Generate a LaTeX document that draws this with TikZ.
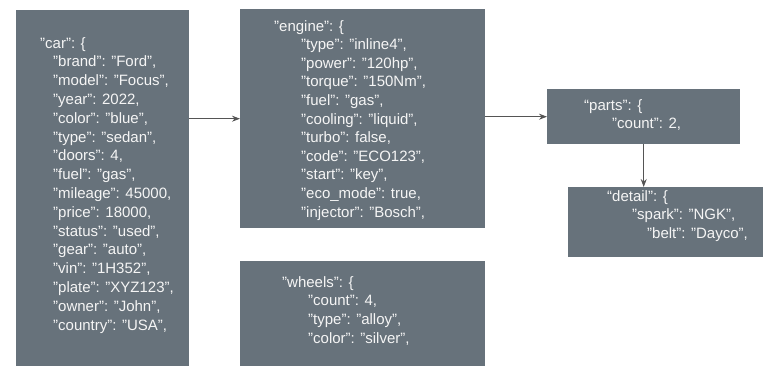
\documentclass[tikz,border=0pt]{standalone}
\usepackage{fontspec}
\setmainfont{Liberation Sans}
\usepackage{tikz}
\usetikzlibrary{arrows.meta}
\definecolor{boxgray}{RGB}{103,114,123}
\definecolor{linegray}{RGB}{85,85,85}
\tikzstyle{jsonbox} = [rectangle, anchor=north west, inner sep=0pt, fill=boxgray, draw=none]
\tikzstyle{jsontext} = [anchor=north west, inner sep=0pt, align=left, text=white!96!black, font=\fontsize{15}{18.8}\selectfont]
\tikzstyle{arrow} = [line width=0.9pt, draw=linegray, -{Stealth[length=8pt, width=6pt]}]
\newcommand{\ind}[1]{\hspace*{#1pt}}

\begin{document}
\begin{tikzpicture}[x=1pt, y=-1pt]
\useasboundingbox (0,0) rectangle (767,366);

\node (car) [jsonbox, minimum width=173pt, minimum height=356pt] at (16,10) {};
\node (engine) [jsonbox, minimum width=245pt, minimum height=219pt] at (240,9) {};
\node (wheels) [jsonbox, minimum width=245pt, minimum height=105pt] at (240,261) {};
\node (parts) [jsonbox, minimum width=193pt, minimum height=55pt] at (547,89) {};
\node (detail) [jsonbox, minimum width=195pt, minimum height=70pt] at (568,187) {};

% text sits by the top line, about 11pt above its baseline
\node (cartxt) [jsontext] at (40,37) {"car": \{\\
\ind{13}"brand": "Ford",\\
\ind{13}"model": "Focus",\\
\ind{13}"year": 2022,\\
\ind{13}"color": "blue",\\
\ind{13}"type": "sedan",\\
\ind{13}"doors": 4,\\
\ind{13}"fuel": "gas",\\
\ind{13}"mileage": 45000,\\
\ind{13}"price": 18000,\\
\ind{13}"status": "used",\\
\ind{13}"gear": "auto",\\
\ind{13}"vin": "1H352",\\
\ind{13}"plate": "XYZ123",\\
\ind{13}"owner": "John",\\
\ind{13}"country": "USA",};

\node (enginetxt) [jsontext, font=\fontsize{15}{18.6}\selectfont] at (274,20) {"engine": \{\\
\ind{27}"type": "inline4",\\
\ind{27}"power": "120hp",\\
\ind{27}"torque": "150Nm",\\
\ind{27}"fuel": "gas",\\
\ind{27}"cooling": "liquid",\\
\ind{27}"turbo": false,\\
\ind{27}"code": "ECO123",\\
\ind{27}"start": "key",\\
\ind{27}"eco\_mode": true,\\
\ind{27}"injector": "Bosch",};

\node (wheelstxt) [jsontext, font=\fontsize{15}{18.7}\selectfont] at (282,276) {"wheels": \{\\
\ind{26}"count": 4,\\
\ind{26}"type": "alloy",\\
\ind{26}"color": "silver",};

\node (partstxt) [jsontext] at (584,99) {“parts": \{\\
\ind{28}"count": 2,};

\node (detailtxt) [jsontext] at (607,190) {“detail": \{\\
\ind{25}"spark": "NGK",\\
\ind{40}"belt": "Dayco",};

\draw [arrow] (car.east |- engine.west) -- (engine.west);
\draw [arrow] (engine.east |- parts.west) -- (parts.west);
\draw [arrow] (parts.south) -- (parts.south |- detail.north);

\end{tikzpicture}
\end{document}
